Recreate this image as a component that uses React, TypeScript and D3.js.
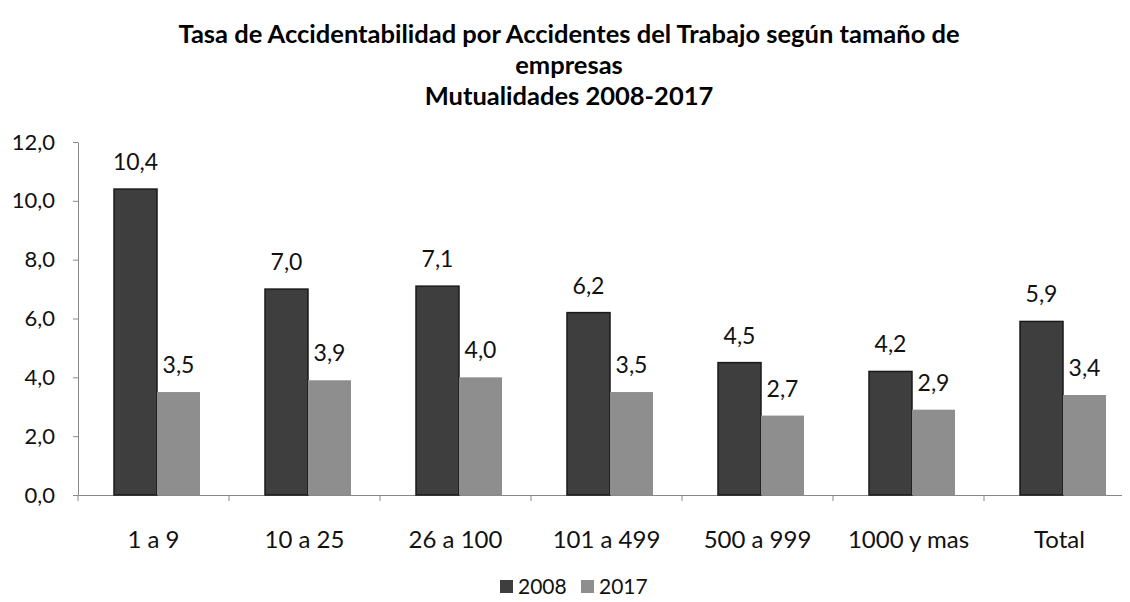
import React from 'react'
import * as d3 from 'd3'

const categories = ['1 a 9', '10 a 25', '26 a 100', '101 a 499', '500 a 999', '1000 y mas', 'Total']
const values2008 = [10.4, 7.0, 7.1, 6.2, 4.5, 4.2, 5.9]
const values2017 = [3.5, 3.9, 4.0, 3.5, 2.7, 2.9, 3.4]
const seriesNames = ['2008', '2017']
const seriesColors = ['#3e3e3e', '#8e8e8e']
const titleLines = [
  'Tasa de Accidentabilidad por Accidentes del Trabajo según tamaño de',
  'empresas',
  'Mutualidades 2008-2017',
]

const fmt = (v: number) => d3.format('.1f')(v).replace('.', ',')

function drawChart(svgRef: React.RefObject<SVGSVGElement>) {
  const width = 1130
  const height = 602
  const font = 'Lato, sans-serif'

  const svg = d3.select(svgRef.current)
    .attr('width', width)
    .attr('height', height)
    .style('display', 'block')
    .style('background', '#fff')
  svg.selectAll('*').remove()

  const x = d3.scaleBand().domain(categories).range([78, 1135])
  const x1 = d3.scaleBand().domain(seriesNames).range([36, 122])
  const y = d3.scaleLinear().domain([0, 12]).range([495, 142])

  svg.append('g')
      .attr('font-family', font)
      .attr('font-weight', 'bold')
      .attr('font-size', 25.5)
      .attr('text-anchor', 'middle')
    .selectAll('text')
    .data(titleLines)
    .join('text')
      .attr('x', 569)
      .attr('y', (d, i) => 43 + i * 31)
      .text(d => d)

  // y axis
  const yAxis = svg.append('g')
    .attr('transform', 'translate(78,0)')
    .call(d3.axisLeft(y).tickValues(d3.range(0, 13, 2)).tickSize(5).tickSizeOuter(0).tickFormat(d => fmt(+d)))
  yAxis.select('.domain').attr('stroke', '#888')
  yAxis.selectAll('.tick line').attr('stroke', '#888')
  yAxis.selectAll('text')
    .attr('font-family', font)
    .attr('font-size', 22)
    .attr('fill', '#111')
    .attr('x', -23)

  // x axis
  const xAxis = svg.append('g')
    .attr('transform', 'translate(0,495)')
    .call(d3.axisBottom(x).tickSize(0).tickSizeOuter(0))
  xAxis.select('.domain').attr('stroke', '#888')
  xAxis.selectAll('text')
    .attr('font-family', font)
    .attr('font-size', 24)
    .attr('fill', '#111')
    .attr('dy', 0)
    .attr('y', 53)
  xAxis.selectAll('.tick line').remove()
  xAxis.append('g')
    .selectAll('line')
    .data(categories)
    .join('line')
      .attr('x1', d => x(d)!)
      .attr('x2', d => x(d)!)
      .attr('y1', 0)
      .attr('y2', 6)
      .attr('stroke', '#888')

  const rows = categories.map((c, i) => ({ c, vals: [values2008[i], values2017[i]] }))

  const group = svg.append('g')
    .selectAll('g')
    .data(rows)
    .join('g')
      .attr('transform', d => `translate(${x(d.c)},0)`)

  group.selectAll('rect')
    .data(d => d.vals.map((v, k) => ({ v, k })))
    .join('rect')
      .attr('x', d => x1(seriesNames[d.k])!)
      .attr('width', x1.bandwidth())
      .attr('y', d => y(d.v))
      .attr('height', d => y(0) - y(d.v))
      .attr('fill', d => seriesColors[d.k])
      .attr('stroke', d => d.k === 0 ? '#1a1a1a' : 'none')
      .attr('stroke-width', 1.5)

  group.selectAll('text')
    .data(d => d.vals.map((v, k) => ({ v, k })))
    .join('text')
      .attr('x', d => x1(seriesNames[d.k])! + x1.bandwidth() / 2)
      .attr('y', d => y(d.v) - 19)
      .attr('text-anchor', 'middle')
      .attr('font-family', font)
      .attr('font-size', 23)
      .attr('fill', '#111')
      .text(d => fmt(d.v))

  // legend
  const legend = svg.append('g')
    .selectAll('g')
    .data(seriesNames)
    .join('g')
      .attr('transform', (d, i) => `translate(${500 + i * 81},580)`)
  legend.append('rect')
    .attr('width', 13)
    .attr('height', 13)
    .attr('fill', (d, i) => seriesColors[i])
  legend.append('text')
    .attr('x', 18)
    .attr('y', 14)
    .attr('font-family', font)
    .attr('font-size', 21)
    .attr('fill', '#111')
    .text(d => d)
}

const App: React.FunctionComponent = () => {
  const svg = React.useRef<SVGSVGElement>(null)

  React.useEffect(() => {
    drawChart(svg)
  }, [svg])

  return (
    <div style={{ margin: -8 }}>
      <svg ref={svg} />
    </div>
  )
}

export default App
